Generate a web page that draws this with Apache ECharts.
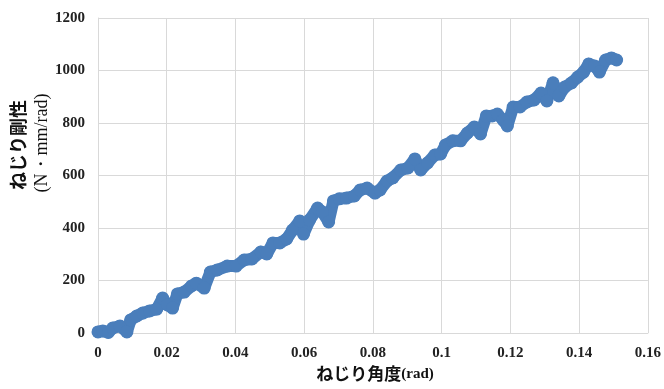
<!DOCTYPE html>
<html>
<head>
<meta charset="utf-8">
<script src="https://cdn.jsdelivr.net/npm/echarts@6/dist/echarts.min.js"></script>
<style>
  html, body { margin: 0; padding: 0; background: #fff; }
  #chart { width: 664px; height: 389px; }
</style>
</head>
<body>
<div id="chart"></div>
<script>
// Torsion angle (rad) and measured torsional stiffness (N·mm/rad)
const angle = [
  0, 0.0014, 0.003, 0.0043, 0.0064, 0.0084, 0.0095, 0.0113, 0.013, 0.015,
  0.0171, 0.0188, 0.0202, 0.0217, 0.0231, 0.0251, 0.0272, 0.0286, 0.0309, 0.0327,
  0.0347, 0.0376, 0.0402, 0.0425, 0.0448, 0.0474, 0.0491, 0.0509, 0.0529, 0.0549,
  0.0566, 0.0587, 0.0598, 0.0616, 0.0639, 0.0653, 0.0671, 0.0685, 0.0702, 0.0723,
  0.0746, 0.0763, 0.0783, 0.0806, 0.0821, 0.0841, 0.0858, 0.0881, 0.0902, 0.0922,
  0.0939, 0.0959, 0.098, 0.0997, 0.1011, 0.1032, 0.1055, 0.1075, 0.1095, 0.1113,
  0.113, 0.1147, 0.1162, 0.1179, 0.1191, 0.1208, 0.1228, 0.1248, 0.1269, 0.1289,
  0.1306, 0.1324, 0.1341, 0.1358, 0.1378, 0.1396, 0.1413, 0.1428, 0.1445, 0.1459,
  0.1477, 0.1494, 0.1509
];
const stiffness = [
  4, 8, 2, 19, 27, 4, 50, 65, 76, 84,
  91, 133, 107, 95, 149, 156, 179, 190, 171, 232,
  240, 255, 255, 278, 282, 309, 301, 343, 343, 358,
  392, 427, 377, 431, 476, 461, 423, 503, 511, 514,
  522, 545, 552, 533, 545, 579, 591, 621, 629, 663,
  621, 648, 678, 682, 716, 732, 732, 762, 785, 758,
  827, 827, 834, 811, 789, 861, 861, 880, 888, 914,
  884, 953, 903, 937, 953, 975, 994, 1025, 1017, 994,
  1040, 1048, 1040
];
const xTicks = [0, 0.02, 0.04, 0.06, 0.08, 0.1, 0.12, 0.14, 0.16];
const yTicks = [0, 200, 400, 600, 800, 1000, 1200];

const points = angle.map((a, i) => [a, stiffness[i]]);

const tickFont = {
  fontFamily: 'Liberation Serif',
  fontWeight: 'bold',
  fontSize: 15,
  color: '#222'
};
const gridLine = { lineStyle: { color: '#d9d9d9', width: 1 } };

const chart = echarts.init(document.getElementById('chart'), null, { renderer: 'canvas' });
chart.setOption({
  animation: false,
  backgroundColor: '#ffffff',
  grid: { left: 98, right: 13, top: 18, bottom: 56 },
  xAxis: {
    type: 'value',
    min: xTicks[0],
    max: xTicks[xTicks.length - 1],
    interval: 0.02,
    axisLine: { show: true, lineStyle: { color: '#d9d9d9' } },
    axisTick: { show: false },
    splitLine: Object.assign({ show: true }, gridLine),
    axisLabel: Object.assign({ margin: 13, formatter: v => String(+v.toFixed(2)) }, tickFont)
  },
  yAxis: {
    type: 'value',
    min: yTicks[0],
    max: yTicks[yTicks.length - 1],
    interval: 200,
    axisLine: { show: true, lineStyle: { color: '#d9d9d9' } },
    axisTick: { show: false },
    splitLine: Object.assign({ show: true }, gridLine),
    axisLabel: Object.assign({ margin: 13, formatter: v => String(v) }, tickFont)
  },
  series: [{
    type: 'line',
    data: points,
    symbol: 'circle',
    symbolSize: 13,
    showSymbol: true,
    itemStyle: { color: '#4a7ebb' },
    lineStyle: { color: '#4a7ebb', width: 12, cap: 'round', join: 'round' },
    z: 3
  }],
  graphic: [
    {
      type: 'text',
      x: 18, y: 145,
      rotation: Math.PI / 2,
      style: {
        text: 'ねじり剛性',
        font: 'bold 18px "Noto Sans CJK JP"',
        fill: '#111',
        align: 'center',
        verticalAlign: 'middle'
      }
    },
    {
      type: 'text',
      x: 42, y: 143,
      rotation: Math.PI / 2,
      style: {
        text: '(N・mm/rad)',
        font: '18px "Liberation Serif"',
        fill: '#111',
        align: 'center',
        verticalAlign: 'middle'
      }
    },
    {
      type: 'text',
      x: 375, y: 374,
      style: {
        text: '{a|ねじり角度}{b|(rad)}',
        align: 'center',
        verticalAlign: 'middle',
        rich: {
          a: { font: 'bold 17px "Noto Sans CJK JP"', fill: '#111' },
          b: { font: 'bold 15px "Liberation Serif"', fill: '#111' }
        }
      }
    }
  ]
});
</script>
</body>
</html>
